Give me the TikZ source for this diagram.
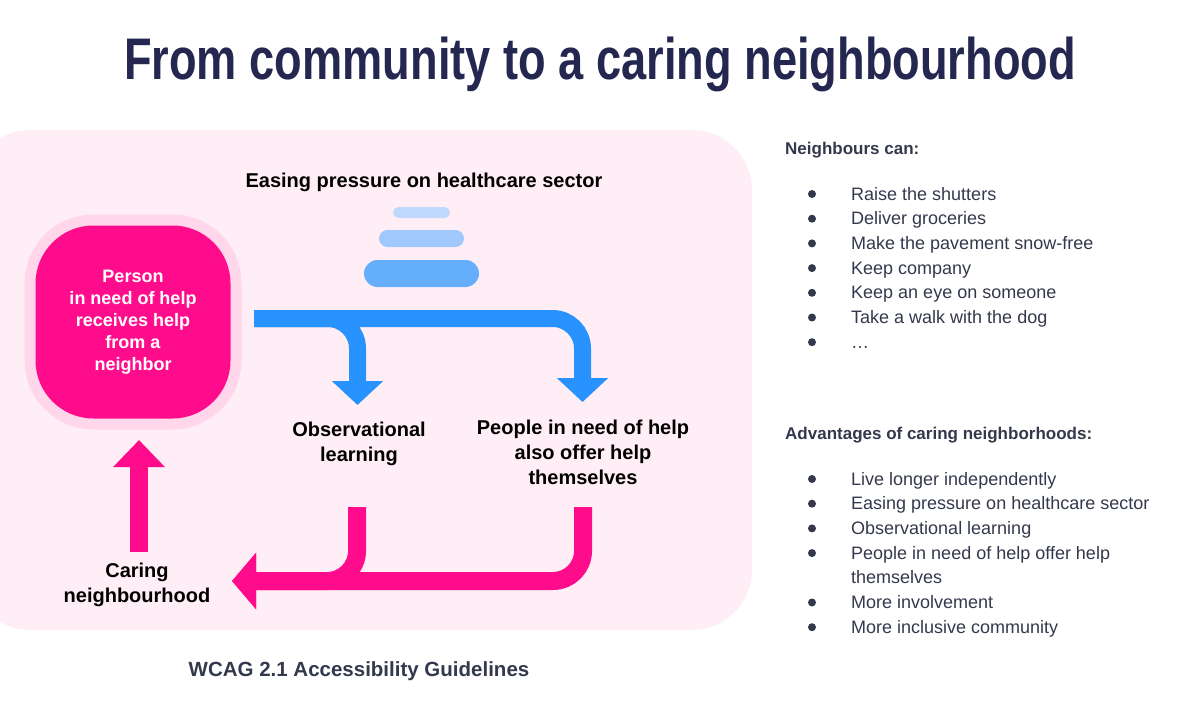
\documentclass[tikz,border=0pt]{standalone}
\usepackage{fontspec}
\setmainfont{Liberation Sans}
\newfontfamily\titlefont{Liberation Sans}[FakeStretch=0.77]
\usetikzlibrary{arrows.meta, positioning}

\definecolor{titlenavy}{RGB}{36,40,80}
\definecolor{textnavy}{RGB}{52,56,76}
\definecolor{bgpink}{RGB}{255,238,246}
\definecolor{halopink}{RGB}{255,214,234}
\definecolor{hotpink}{RGB}{255,12,140}
\definecolor{arrowblue}{RGB}{40,146,255}
\definecolor{barlight}{RGB}{192,216,252}
\definecolor{barmid}{RGB}{160,200,252}
\definecolor{bardark}{RGB}{100,174,252}

\begin{document}
\begin{tikzpicture}[
        x=1pt, y=-1pt,
        personbox/.style={rectangle, rounded corners=58pt, minimum width=195pt, minimum height=193pt, fill=hotpink,
            preaction={draw=halopink, line width=22pt}, text=white, align=center,
            font=\fontsize{18}{22}\selectfont\bfseries},
        steplabel/.style={align=center, inner sep=0pt, font=\fontsize{20}{25}\selectfont\bfseries},
        bar/.style={rectangle, inner sep=0pt},
        flowblue/.style={draw=arrowblue, line width=17pt, rounded corners=30pt, -{Triangle[length=24pt, width=50pt]}},
        flowpink/.style={draw=hotpink, line width=18pt, rounded corners=30pt, -{Triangle[length=24pt, width=55pt]}},
        listhead/.style={anchor=base west, inner sep=0pt, text=textnavy, font=\fontsize{17}{20}\selectfont\bfseries},
        listitem/.style={anchor=base west, inner sep=0pt, text=textnavy, font=\fontsize{18}{21}\selectfont},
        dot/.style={circle, fill=textnavy, inner sep=0pt, minimum size=8pt}
    ]
        \useasboundingbox (0,0) rectangle (1187,709);

        % Title
        \node[anchor=base, text=titlenavy, font=\fontsize{58.7}{60}\titlefont\bfseries] (title) at (600,80)
            {From community to a caring neighbourhood};

        % Pink panel
        \fill[bgpink, rounded corners=60pt] (-30,130) rectangle (752,630);

        % The person in need of help
        \node[personbox] (person) at (133,322) {Person\\in need of help\\receives help\\from a\\neighbor};

        % Healthcare sector with the stack icon
        \node[anchor=base, inner sep=0pt, font=\fontsize{20}{24}\selectfont\bfseries] (easing) at (424,187)
            {Easing pressure on healthcare sector};
        \node[bar, fill=barlight, rounded corners=5.5pt, minimum width=57pt, minimum height=11pt] (bartop) at (421.5,212.5) {};
        \node[bar, fill=barmid, rounded corners=8.5pt, minimum width=85pt, minimum height=17pt] (barmid) at (421.5,238.5) {};
        \node[bar, fill=bardark, rounded corners=13.5pt, minimum width=115pt, minimum height=27pt] (barlow) at (421.5,273.5) {};

        % Outcomes
        \node[steplabel] (observe) at (359,444) {Observational\\learning};
        \node[steplabel] (offer) at (583,452) {People in need of help\\also offer help\\themselves};
        \node[steplabel] (caring) at (137,585) {Caring\\neighbourhood};

        % Blue branching arrow
        \coordinate (bluestart) at (254,318.5);
        \coordinate (observetip) at (357.5,405);
        \coordinate (offertip) at (582.5,402);
        \draw[flowblue] (bluestart) -| (observetip);
        \draw[flowblue] (bluestart) -| (offertip);

        % Pink arrows back to the neighbourhood
        \coordinate (observefoot) at (357,507);
        \coordinate (offerfoot) at (583,507);
        \coordinate (caringtip) at (232,581);
        \draw[flowpink] (observefoot) |- (caringtip);
        \draw[flowpink] (offerfoot) |- (caringtip);

        \coordinate (upfoot) at (139,552);
        \coordinate (uptip) at (139,440);
        \draw[hotpink, line width=18pt, -{Triangle[length=27pt, width=50pt]}] (upfoot) -- (uptip);

        % Caption
        \node[anchor=base, inner sep=0pt, text=textnavy, font=\fontsize{20.5}{24}\selectfont\bfseries] (caption) at (359,676)
            {WCAG 2.1 Accessibility Guidelines};

        % Neighbours can
        \node[listhead] (canhead) at (785,154) {Neighbours can:};
        \foreach \t [count=\i from 0] in {Raise the shutters, Deliver groceries, Make the pavement snow-free,
                Keep company, Keep an eye on someone, Take a walk with the dog, \dots} {
            \node[dot] (candot\i) at (812,200+24.7*\i-6) {};
            \node[listitem] (can\i) at (851,200+24.7*\i) {\t};
        }

        % Advantages
        \node[listhead] (advhead) at (785,439) {Advantages of caring neighborhoods:};
        \foreach \t/\b [count=\i from 0] in {Live longer independently/1, Easing pressure on healthcare sector/1,
                Observational learning/1, People in need of help offer help/1, themselves/0,
                More involvement/1, More inclusive community/1} {
            \ifnum\b=1 \node[dot] (advdot\i) at (812,485+24.7*\i-6) {}; \fi
            \node[listitem] (adv\i) at (851,485+24.7*\i) {\t};
        }
    \end{tikzpicture}
\end{document}
